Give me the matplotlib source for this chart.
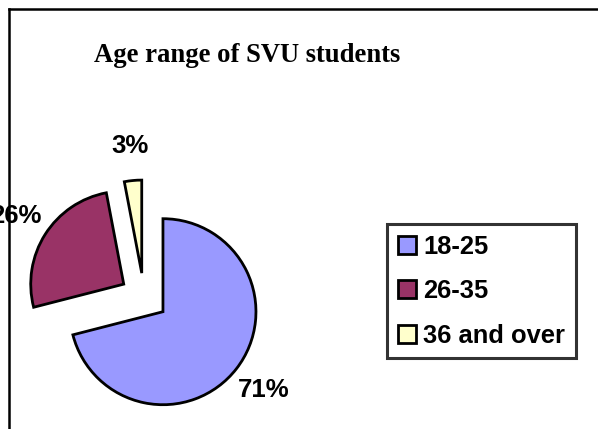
import matplotlib
matplotlib.use("Agg")
import matplotlib.pyplot as plt
from matplotlib.lines import Line2D

# Data
categories = ["18-25", "26-35", "36 and over"]
shares = [71, 26, 3]
colors = ["#9999FF", "#993366", "#FFFFCC"]
title = "Age range of SVU students"

W, H = 598, 429
fig = plt.figure(figsize=(W / 100, H / 100), dpi=100)
ax = fig.add_axes([0, 0, 1, 1])

wedges, texts, autotexts = ax.pie(
    shares,
    colors=colors,
    startangle=90,
    counterclock=False,
    explode=[24, 24, 24],
    center=(144, H - 297),
    radius=93,
    autopct="%1.0f%%",
    pctdistance=1.37,
    wedgeprops=dict(edgecolor="black", linewidth=2.0),
    textprops=dict(family="Liberation Sans", fontweight="bold", fontsize=18.5, color="black"),
    frame=True,
)
ax.set_xlim(0, W)
ax.set_ylim(0, H)
ax.set_aspect("equal")
ax.axis("off")

fig.text(247 / W, 1 - 56 / H, title, ha="center", va="center",
         family="Liberation Serif", fontweight="bold", fontsize=19.2)

leg = ax.legend(
    wedges, categories,
    loc="upper left",
    bbox_to_anchor=(387 / W, 1 - 224 / H),
    bbox_transform=fig.transFigure,
    prop=dict(family="Liberation Sans", weight="bold", size=18.4),
    frameon=True, fancybox=False, shadow=False,
    handlelength=0.7, handleheight=0.7, handletextpad=0.3,
    labelspacing=0.8, borderpad=0.42, borderaxespad=0,
)
leg.get_frame().set_edgecolor("black")
leg.get_frame().set_linewidth(2.2)

# chart area frame (top and left edges visible)
fig.add_artist(Line2D([9 / W, 1], [1 - 9 / H, 1 - 9 / H], transform=fig.transFigure,
                      color="black", linewidth=1.8))
fig.add_artist(Line2D([9 / W, 9 / W], [1 - 9 / H, 0], transform=fig.transFigure,
                      color="black", linewidth=1.8))

fig.savefig("out.png", dpi=100, facecolor="white")
